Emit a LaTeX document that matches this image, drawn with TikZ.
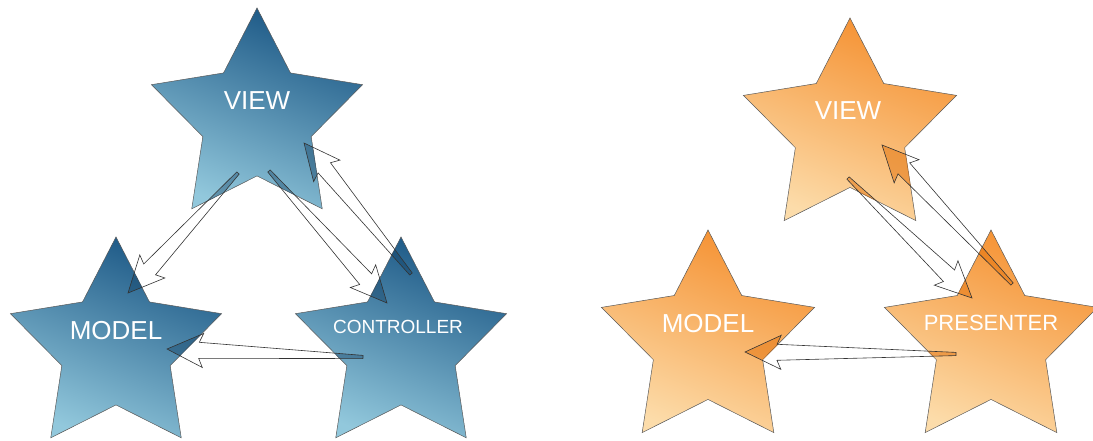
\documentclass[tikz,border=0pt]{standalone}
\usepackage{fontspec}
\setmainfont{Liberation Sans}
\usetikzlibrary{shapes.geometric,calc}
\definecolor{bluedark}{HTML}{1A5684}
\definecolor{bluelight}{HTML}{92C8DC}
\definecolor{orgdark}{HTML}{F59030}
\definecolor{orglight}{HTML}{FCDCAA}
\definecolor{bluetint}{HTML}{0A3558}
\definecolor{orgtint}{HTML}{E06A00}
\tikzset{
  starbase/.style={shape=star, star points=5, star point ratio=1.95, inner sep=0pt, draw=black!65, line width=0.5pt},
  bluestar/.style={starbase, minimum size=222pt, top color=bluedark, bottom color=bluelight, shading angle=-22},
  orangestar/.style={starbase, minimum size=224pt, top color=orgdark, bottom color=orglight, shading angle=-22},
  lbl/.style={text=white, inner sep=0pt, font=\fontsize{#1}{#1}\selectfont},
  arrowline/.style={draw=black!80, line width=0.6pt, line join=miter},
  blueshade/.style={fill=bluetint, fill opacity=0.35},
  orgshade/.style={fill=orgtint, fill opacity=0.45},
}
\newcommand{\blockarrow}[3][arrowline]{%
  \path[#1] let \p1=(#2), \p2=(#3),
    \n1={atan2(\y2-\y1,\x2-\x1)}, \n2={veclen(\x2-\x1,\y2-\y1)} in
    {[shift={(\p1)}, rotate=\n1]
     (0pt,-1.6pt) -- ({\n2-32pt},-8pt) -- ({\n2-36pt},-17pt) -- ({\n2*1pt},0pt)
     -- ({\n2-36pt},17pt) -- ({\n2-32pt},8pt) -- (0pt,1.6pt) -- cycle};
}
\newcommand{\starclip}[1]{%
  \clip (#1.outer point 1) -- (#1.inner point 1) -- (#1.outer point 2) -- (#1.inner point 2)
   -- (#1.outer point 3) -- (#1.inner point 3) -- (#1.outer point 4) -- (#1.inner point 4)
   -- (#1.outer point 5) -- (#1.inner point 5) -- cycle;
}
\begin{document}
\begin{tikzpicture}[x=1pt,y=-1pt]
\useasboundingbox (0,0) rectangle (1093,441);
% MVC (blue)
\node[bluestar] (bview) at (257,119) {};
\node[bluestar] (bmodel) at (116,348) {};
\node[bluestar] (bctrl) at (401,348) {};
\node[lbl=26] (bviewlbl) at ([yshift=18pt]bview.center) {VIEW};
\node[lbl=26] (bmodellbl) at ([yshift=17pt]bmodel.center) {MODEL};
\node[lbl=19] (bctrllbl) at ([yshift=21pt,xshift=-3pt]bctrl.center) {CONTROLLER};
% MVP (orange)
\node[orangestar] (oview) at (850,130) {};
\node[orangestar] (omodel) at (708,342) {};
\node[orangestar] (opres) at (991,342) {};
\node[lbl=26] (oviewlbl) at ([yshift=19pt,xshift=-2pt]oview.center) {VIEW};
\node[lbl=26] (omodellbl) at ([yshift=18pt]omodel.center) {MODEL};
\node[lbl=22] (opreslbl) at ([yshift=19pt]opres.center) {PRESENTER};
% arrow end points
\coordinate (a1s) at (238,173); \coordinate (a1e) at (128,293);
\coordinate (a2s) at (269,171); \coordinate (a2e) at (387,303);
\coordinate (a3s) at (411,274); \coordinate (a3e) at (304,143);
\coordinate (a4s) at (363,357); \coordinate (a4e) at (167,349);
\coordinate (b1s) at (848,178); \coordinate (b1e) at (972,298);
\coordinate (b2s) at (1012,284); \coordinate (b2e) at (882,145);
\coordinate (b3s) at (956,354); \coordinate (b3e) at (745,352);
% darker tint of the arrows where they lie over a star
\foreach \s in {bview,bmodel,bctrl}{
  \begin{scope}
    \starclip{\s}
    \blockarrow[blueshade]{a1s}{a1e}
    \blockarrow[blueshade]{a2s}{a2e}
    \blockarrow[blueshade]{a3s}{a3e}
    \blockarrow[blueshade]{a4s}{a4e}
  \end{scope}
}
\foreach \s in {oview,omodel,opres}{
  \begin{scope}
    \starclip{\s}
    \blockarrow[orgshade]{b1s}{b1e}
    \blockarrow[orgshade]{b2s}{b2e}
    \blockarrow[orgshade]{b3s}{b3e}
  \end{scope}
}
% arrow outlines
\blockarrow{a1s}{a1e}
\blockarrow{a2s}{a2e}
\blockarrow{a3s}{a3e}
\blockarrow{a4s}{a4e}
\blockarrow{b1s}{b1e}
\blockarrow{b2s}{b2e}
\blockarrow{b3s}{b3e}
\end{tikzpicture}
\end{document}
